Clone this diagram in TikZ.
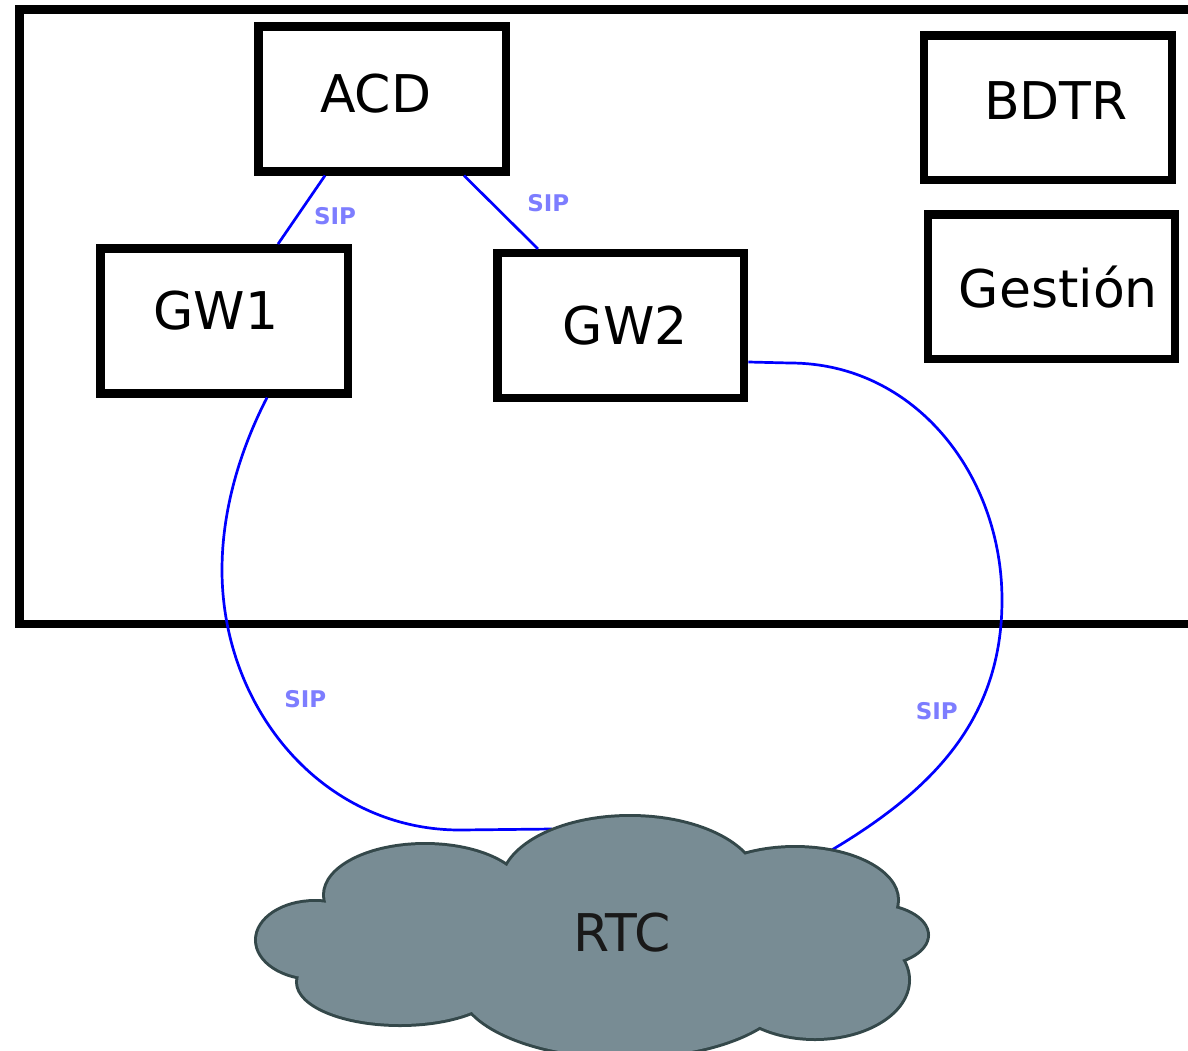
\documentclass[tikz,border=0pt]{standalone}
\usepackage{fontspec}
\setmainfont{DejaVu Sans}
\usetikzlibrary{calc}
\definecolor{sipblue}{RGB}{0,0,255}
\definecolor{siptext}{RGB}{125,125,255}
\definecolor{cloudfill}{RGB}{120,140,148}
\definecolor{cloudedge}{RGB}{52,72,74}

\tikzset{
  unit/.style={draw=black, fill=white, line width=4.25pt, inner sep=0pt,
    font=\fontsize{26}{30}\selectfont},
  sip/.style={draw=sipblue, line width=1.35pt},
  siplabel/.style={text=siptext, inner sep=0pt,
    font=\fontsize{11.5}{13}\selectfont\bfseries},
  frame/.style={draw=black, line width=4.25pt},
  lobeedge/.style={draw=cloudedge, line width=3pt},
  lobefill/.style={fill=cloudfill},
  cloudtext/.style={font=\fontsize{26}{30}\selectfont, text=black!90}
}

\begin{document}
\begin{tikzpicture}[x=0.5pt,y=-0.5pt]
\useasboundingbox (0,0) rectangle (1188,1050);
\clip (0,0) rectangle (1188,1050);

% site boundary, open to the right
\draw[frame] (19.5,9.5) rectangle (1220,624);

% equipment boxes
\node[unit, minimum width=123.75pt, minimum height=72.5pt] (acd) at (382.2,98.8)
  {\raisebox{5.8pt}{ACD}\hspace*{6.5pt}};
\node[unit, minimum width=123.8pt, minimum height=72.25pt] (bdtr) at (1048,107.7)
  {\hspace*{7.8pt}\raisebox{7pt}{BDTR}};
\node[unit, minimum width=123.4pt, minimum height=72.15pt] (gestion) at (1051.6,286.7)
  {\hspace*{6.7pt}Gestión};
\node[unit, minimum width=123.75pt, minimum height=72.5pt] (gw1) at (224.2,320.8)
  {\raisebox{10.5pt}{GW1}\hspace*{8.4pt}};
\node[unit, minimum width=123.35pt, minimum height=72.3pt] (gw2) at (620.8,325.5)
  {\hspace*{4.4pt}GW2};

% attachment points on the cloud outline
\coordinate (rtcA) at (552,829);
\coordinate (rtcB) at (830,851);

% SIP trunks
\draw[sip] ($(acd.south)+(-57.2,0)$) --
  node[siplabel, midway, xshift=16.75pt, yshift=-3.25pt] {SIP}
  ($(gw1.north)+(53.8,0)$);
\draw[sip] ($(acd.south)+(81.8,0)$) --
  node[siplabel, midway, xshift=23.65pt, yshift=4.5pt] {SIP}
  ($(gw2.north)+(-82.8,0)$);
\draw[sip] ($(gw1.south)+(42.8,0)$) .. controls (240,450) and (222,510) .. (222,570)
  .. controls (222,708) and (322,830) ..
  node[siplabel, pos=0.35, xshift=24.6pt, yshift=2.9pt] {SIP} (460,830)
  -- (rtcA);
\draw[sip] ($(gw2.east)+(0,36.5)$) -- (790,363)
  .. controls (915,363) and (1002,475) .. (1002,600)
  .. controls (1002,719) and (933,790) ..
  node[siplabel, pos=0.35, xshift=-20.7pt, yshift=-1.05pt] {SIP} (rtcB);

% public network cloud: outlined lobes, then filled over to keep only the rim
\foreach \cx/\cy/\rx/\ry in {315/940/29/19, 425/895/50/25, 630/885/64/34,
    795/900/51/26, 870/935/28.5/15, 815/980/46.5/29, 625/985/82.5/36,
    400/982/51/21}
  \draw[lobeedge] (\cx,\cy) ellipse [x radius=\rx pt, y radius=\ry pt];
\foreach \cx/\cy/\rx/\ry in {315/940/29/19, 425/895/50/25, 630/885/64/34,
    795/900/51/26, 870/935/28.5/15, 815/980/46.5/29, 625/985/82.5/36,
    400/982/51/21, 600/940/120/35}
  \fill[lobefill] (\cx,\cy) ellipse [x radius=\rx pt, y radius=\ry pt];
\node[cloudtext] (rtc) at (622,933) {RTC};
\end{tikzpicture}
\end{document}
